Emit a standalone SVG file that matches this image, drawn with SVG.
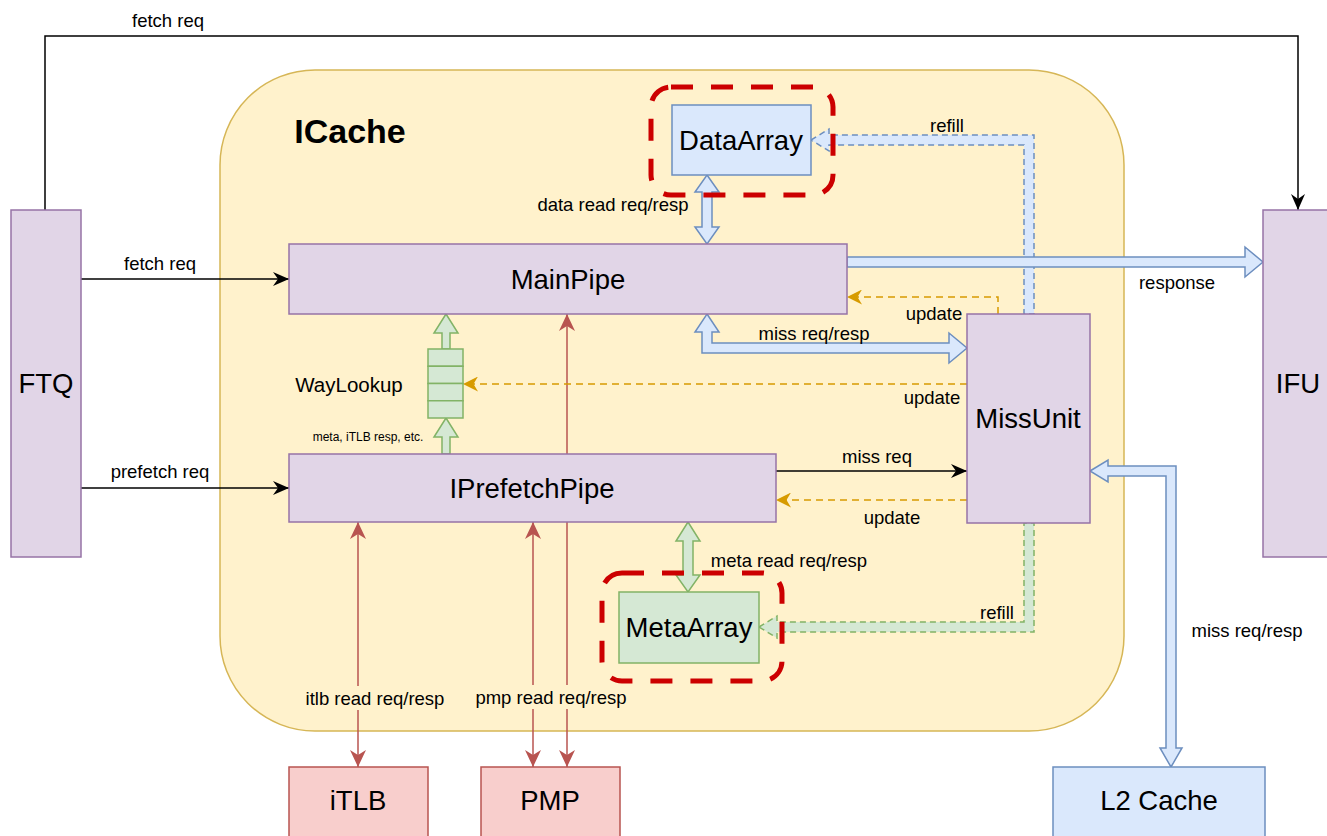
<svg xmlns="http://www.w3.org/2000/svg" width="1327" height="836" viewBox="0 0 1327 836">
<style>
text{font-family:"Liberation Sans",Arial,Helvetica,sans-serif;fill:#000;text-anchor:middle}
.lbl{font-size:18.5px}
.big{font-size:27.5px}
.purple{fill:#e1d5e7;stroke:#9673a6;stroke-width:1.5}
.blue{fill:#dae8fc;stroke:#6c8ebf;stroke-width:1.5}
.green{fill:#d5e8d4;stroke:#82b366;stroke-width:1.5}
.red{fill:#f8cecc;stroke:#b85450;stroke-width:1.5}
.hl{fill:none;stroke:#cc0000;stroke-width:5;stroke-dasharray:22 18}
.blk{fill:none;stroke:#000;stroke-width:1.5}
.rl{fill:none;stroke:#b85450;stroke-width:1.5}
.upd{fill:none;stroke:#d79b00;stroke-width:1.5;stroke-dasharray:7 5}
.dsh{stroke-dasharray:6 4}
</style>
<defs>
<marker id="ab" markerUnits="userSpaceOnUse" markerWidth="16" markerHeight="14" refX="16" refY="7" orient="auto-start-reverse"><path d="M0,0 L16,7 L0,14 L5,7 Z" fill="#000"/></marker>
<marker id="ar" markerUnits="userSpaceOnUse" markerWidth="17" markerHeight="16" refX="17" refY="8" orient="auto-start-reverse"><path d="M0,0 L17,8 L0,16 L5,8 Z" fill="#b85450"/></marker>
<marker id="ao" markerUnits="userSpaceOnUse" markerWidth="15" markerHeight="15" refX="15" refY="7.5" orient="auto-start-reverse"><path d="M0,0 L15,7.5 L0,15 L4.5,7.5 Z" fill="#d79b00"/></marker>
</defs>
<rect width="1327" height="836" fill="#fff"/>

<g id="ICache">
<rect x="220" y="70" width="904" height="661" rx="95" ry="95" fill="#fff2cc" stroke="#d6b656" stroke-width="1.5"/>
<text x="350" y="143" style="font-size:34px;font-weight:bold">ICache</text>
</g>

<g id="connectors">
<path class="blk" d="M45,210 L45,36 L1298,36 L1298,210" marker-end="url(#ab)"/>
<path class="blk" d="M81,279 L289,279" marker-end="url(#ab)"/>
<path class="blk" d="M81,488 L289,488" marker-end="url(#ab)"/>
<path class="blk" d="M776,471 L967,471" marker-end="url(#ab)"/>
<path class="rl" d="M358,522 L358,767" marker-start="url(#ar)" marker-end="url(#ar)"/>
<path class="rl" d="M533,522 L533,767" marker-start="url(#ar)" marker-end="url(#ar)"/>
<path class="rl" d="M567,314 L567,767" marker-start="url(#ar)" marker-end="url(#ar)"/>
<path class="upd" d="M998,314 L998,297 L847,297" marker-end="url(#ao)"/>
<path class="upd" d="M967,384 L463,384" marker-end="url(#ao)"/>
<path class="upd" d="M967,500 L776,500" marker-end="url(#ao)"/>
<path class="blue dsh" d="M811,140 L829,129 L829,135 L1034,135 L1034,314 L1024,314 L1024,145 L829,145 L829,151 Z"/>
<path class="green dsh" d="M759,627 L777,616 L777,622 L1024,622 L1024,523 L1034,523 L1034,632 L777,632 L777,638 Z"/>
<path class="blue" d="M707,175 L719,192 L712,192 L712,227 L719,227 L707,244 L695,227 L702,227 L702,192 L695,192 Z"/>
<path class="blue" d="M847,257 L1245,257 L1245,247 L1263,262 L1245,277 L1245,267 L847,267 Z"/>
<path class="blue" d="M707,314 L719,332 L712,332 L712,343 L949,343 L949,333 L967,348 L949,363 L949,353 L702,353 L702,332 L695,332 Z"/>
<path class="blue" d="M1090,471 L1108,460 L1108,466 L1176,466 L1176,748 L1182,748 L1171,767 L1160,748 L1166,748 L1166,476 L1108,476 L1108,482 Z"/>
<path class="green" d="M688,522 L700,541 L693,541 L693,575 L700,575 L688,592 L676,575 L683,575 L683,541 L676,541 Z"/>
<path class="green" d="M446,314 L458,333 L450,333 L450,349 L442,349 L442,333 L434,333 Z"/>
<path class="green" d="M446,418 L458,437 L450,437 L450,454 L442,454 L442,437 L434,437 Z"/>
</g>

<g id="highlights">
<rect class="hl" x="651" y="87" width="182" height="108" rx="20" ry="20"/>
<rect class="hl" x="602" y="573" width="180" height="108" rx="20" ry="20"/>
</g>

<g id="FTQ"><rect class="purple" x="11" y="210" width="70" height="347"/><text class="big" x="46" y="393">FTQ</text></g>
<g id="IFU"><rect class="purple" x="1263" y="210" width="80" height="347"/><text class="big" x="1298" y="393">IFU</text></g>
<g id="MainPipe"><rect class="purple" x="289" y="244" width="558" height="70"/><text class="big" x="568" y="289">MainPipe</text></g>
<g id="IPrefetchPipe"><rect class="purple" x="289" y="454" width="487" height="68"/><text class="big" x="532" y="498">IPrefetchPipe</text></g>
<g id="MissUnit"><rect class="purple" x="967" y="314" width="123" height="209"/><text class="big" x="1028" y="428">MissUnit</text></g>
<g id="DataArray"><rect class="blue" x="672" y="105" width="139" height="70"/><text class="big" x="741" y="150">DataArray</text></g>
<g id="MetaArray"><rect class="green" x="619" y="592" width="140" height="71"/><text class="big" x="689" y="637">MetaArray</text></g>
<g id="WayLookup">
<rect class="green" x="428" y="349" width="35" height="17.25"/>
<rect class="green" x="428" y="366.25" width="35" height="17.25"/>
<rect class="green" x="428" y="383.5" width="35" height="17.25"/>
<rect class="green" x="428" y="400.75" width="35" height="17.25"/>
<text x="349" y="392" style="font-size:20.5px">WayLookup</text>
</g>
<g id="iTLB"><rect class="red" x="289" y="767" width="139" height="80"/><text class="big" x="358" y="810">iTLB</text></g>
<g id="PMP"><rect class="red" x="481" y="767" width="139" height="80"/><text class="big" x="550" y="810">PMP</text></g>
<g id="L2Cache"><rect class="blue" x="1053" y="767" width="212" height="80"/><text class="big" x="1159" y="810">L2 Cache</text></g>

<g id="labels">
<text class="lbl" x="168" y="27">fetch req</text>
<text class="lbl" x="160" y="270">fetch req</text>
<text class="lbl" x="160" y="478">prefetch req</text>
<text class="lbl" x="613" y="211">data read req/resp</text>
<text class="lbl" x="947" y="132">refill</text>
<text class="lbl" x="1177" y="289">response</text>
<text class="lbl" x="934" y="320">update</text>
<text class="lbl" x="814" y="340">miss req/resp</text>
<text class="lbl" x="932" y="404">update</text>
<text class="lbl" x="877" y="463">miss req</text>
<text class="lbl" x="892" y="524">update</text>
<text class="lbl" x="789" y="567">meta read req/resp</text>
<text class="lbl" x="997" y="619">refill</text>
<text class="lbl" x="1247" y="637">miss req/resp</text>
<text x="368" y="441" style="font-size:12px">meta, iTLB resp, etc.</text>
<rect x="302" y="686" width="146" height="24" fill="#fff2cc"/>
<text class="lbl" x="375" y="705">itlb read req/resp</text>
<rect x="471" y="685" width="160" height="24" fill="#fff2cc"/>
<text class="lbl" x="551" y="704">pmp read req/resp</text>
</g>
</svg>
